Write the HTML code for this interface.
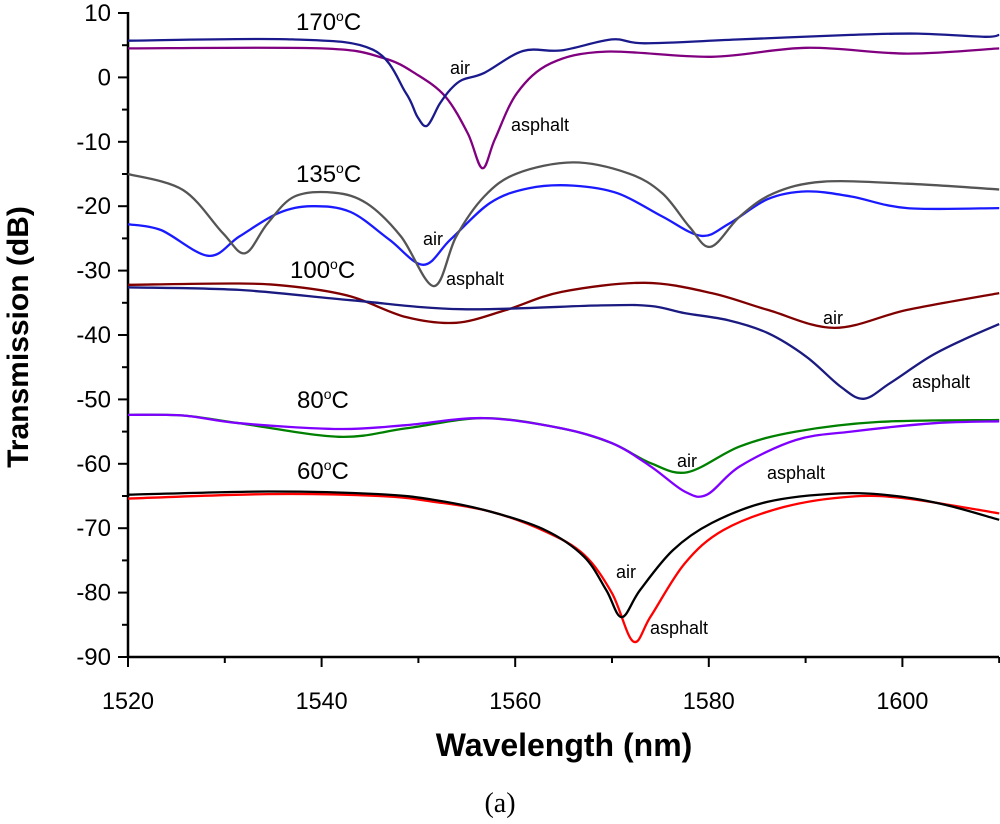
<!DOCTYPE html>
<html><head><meta charset="utf-8"><style>
body{margin:0;background:#fff;}
svg{display:block;font-family:"Liberation Sans",Arial,sans-serif;}
</style></head><body>
<svg id="chart" width="1000" height="824" viewBox="0 0 1000 824" xmlns="http://www.w3.org/2000/svg">
<g id="axes"></g>
<g id="series"></g>
<g id="labels">
<text x="296" y="30" font-size="24">170<tspan dy="-9" font-size="14">o</tspan><tspan dy="9">C</tspan></text>
<text x="296" y="182" font-size="24">135<tspan dy="-9" font-size="14">o</tspan><tspan dy="9">C</tspan></text>
<text x="290" y="278" font-size="24">100<tspan dy="-9" font-size="14">o</tspan><tspan dy="9">C</tspan></text>
<text x="297" y="408" font-size="24">80<tspan dy="-9" font-size="14">o</tspan><tspan dy="9">C</tspan></text>
<text x="297" y="479" font-size="24">60<tspan dy="-9" font-size="14">o</tspan><tspan dy="9">C</tspan></text>
<text x="450" y="74" font-size="18">air</text>
<text x="511" y="131" font-size="18">asphalt</text>
<text x="423" y="245" font-size="18">air</text>
<text x="446" y="285" font-size="18">asphalt</text>
<text x="823" y="324" font-size="18">air</text>
<text x="912" y="388" font-size="18">asphalt</text>
<text x="677" y="467" font-size="18">air</text>
<text x="767" y="479" font-size="18">asphalt</text>
<text x="616" y="578" font-size="18">air</text>
<text x="650" y="634" font-size="18">asphalt</text>
<text transform="translate(28,337) rotate(-90)" text-anchor="middle" font-size="30" font-weight="bold">Transmission (dB)</text>
<text x="564" y="756" text-anchor="middle" font-size="32" font-weight="bold">Wavelength (nm)</text>
<text x="500" y="812" text-anchor="middle" font-size="28" font-family="'Liberation Serif',serif">(a)</text>
</g>
</svg>
<script>
const xTicks=[1520,1540,1560,1580,1600];
const yTicks=[10,0,-10,-20,-30,-40,-50,-60,-70,-80,-90];
const w170air=[1520,1537,1545.3,1548.7,1549.9,1550.9,1552.2,1553.3,1554.5,1556.8,1560.8,1564.8,1570,1573.4,1583.2,1594.7,1601.6,1608.5,1610];
const t170air=[5.7,5.9,4.3,-2.4,-6.1,-7.5,-4.1,-1.9,-0.4,0.7,4.1,4.2,5.9,5.3,5.9,6.6,6.8,6.3,6.6];
const w170asp=[1520,1540,1546.4,1549.9,1552.8,1555.1,1556.6,1557.9,1560.2,1563.7,1569.4,1580.3,1590.1,1600.5,1610];
const t170asp=[4.5,4.5,3.0,0.4,-3.0,-8.7,-14.1,-9.6,-2.4,2.2,4.0,3.2,4.6,3.7,4.5];
const w135asp=[1520,1525.7,1529.8,1532.1,1534.4,1537.2,1541.3,1544.7,1548.2,1551.6,1553.9,1556.8,1560.2,1566,1571.7,1575.2,1578,1580.2,1583.2,1586.7,1591.8,1600.5,1610];
const t135asp=[-15.0,-17.5,-24.2,-27.3,-22.7,-18.5,-17.9,-19.6,-24.7,-32.4,-24.7,-18.5,-14.9,-13.2,-14.9,-18.0,-23.2,-26.3,-21.6,-18.0,-16.2,-16.5,-17.4];
const w135air=[1520,1523.4,1528.3,1531.5,1535.5,1539,1543,1547,1550.5,1553.3,1557.4,1561.4,1566,1570.6,1575.2,1579.2,1582.1,1586.1,1590.1,1594.7,1600.5,1610];
const t135air=[-22.8,-23.7,-27.7,-24.7,-21.1,-20.0,-20.9,-25.2,-29.1,-25.2,-19.5,-17.2,-16.8,-18.0,-21.6,-24.6,-22.7,-18.9,-17.7,-18.5,-20.3,-20.3];
const w100air=[1520,1531.5,1537.2,1543,1548.7,1553.9,1559.1,1564.8,1573.4,1580.3,1586.1,1593,1600.5,1610];
const t100air=[-32.2,-32.0,-32.5,-34.0,-37.2,-38.1,-36.1,-33.3,-31.9,-33.5,-36.1,-38.9,-36.1,-33.5];
const w100asp=[1520,1531.5,1543,1554.5,1568.9,1574,1577.5,1582,1586.1,1590.1,1593.6,1596,1598.7,1602.8,1606.2,1610];
const t100asp=[-32.6,-33.0,-34.6,-36.0,-35.4,-35.5,-36.6,-37.7,-39.7,-43.4,-48,-49.9,-47.5,-43.4,-40.8,-38.3];
const w80air=[1520,1525.7,1531.5,1541.8,1548.7,1556.8,1564.8,1570,1574,1577.8,1583.2,1589,1597.6,1610];
const t80air=[-52.4,-52.5,-53.7,-55.8,-54.5,-52.9,-54.5,-56.8,-59.9,-61.3,-57.3,-55.0,-53.5,-53.2];
const w80asp=[1520,1525.7,1531.5,1541.8,1548.7,1556.8,1564.8,1570,1574,1577.5,1579.8,1583.2,1589,1594.7,1603.3,1610];
const t80asp=[-52.4,-52.5,-53.7,-54.6,-54.0,-52.9,-54.5,-56.8,-60.4,-64.3,-64.8,-60.4,-56.3,-55.0,-53.7,-53.4];
const w60air=[1520,1534.4,1545.9,1551.6,1557.4,1563.1,1567.1,1569.4,1571,1572.9,1576.3,1580.3,1586.1,1593.6,1599.3,1604.5,1610];
const t60air=[-64.8,-64.3,-64.7,-65.6,-67.4,-70.3,-74.4,-79.6,-83.8,-79.6,-73.4,-69.2,-65.9,-64.6,-65.0,-66.4,-68.7];
const w60asp=[1520,1534.4,1545.9,1551.6,1557.4,1563.1,1567.1,1570,1572.2,1574,1577.5,1581.5,1587.8,1594.7,1600.5,1610];
const t60asp=[-65.4,-64.7,-65.0,-65.9,-67.4,-70.5,-74.1,-80.1,-87.6,-83.7,-75.5,-70.3,-66.7,-65.1,-65.4,-67.7];

const NS='http://www.w3.org/2000/svg';
const X=v=>128+(v-1520)*9.68;
const Y=v=>77.4-v*6.44;
const axes=document.getElementById('axes');
const series=document.getElementById('series');
function mk(tag,attrs,parent){const e=document.createElementNS(NS,tag);for(const k in attrs)e.setAttribute(k,attrs[k]);parent.appendChild(e);return e;}
let ax=mk('line',{x1:128,y1:657,x2:999,y2:657,stroke:'#000','stroke-width':2.5},axes);


let ay=mk('line',{x1:128,y1:12,x2:128,y2:658,stroke:'#000','stroke-width':2.5},axes);


for(let v=1520;v<=1610;v+=10){
  const major=xTicks.includes(v);
  const t=mk('line',{x1:X(v),y1:657,x2:X(v),y2:major?667:663,stroke:'#000','stroke-width':2},axes);
  
  
}
xTicks.forEach(v=>{
  const t=mk('text',{x:X(v),y:709,'text-anchor':'middle','font-size':24,'textLength':52,'lengthAdjust':'spacingAndGlyphs'},axes);
  t.textContent=v;
  
  
});
for(let v=10;v>=-90;v-=5){
  const major=v%10===0;
  const t=mk('line',{x1:major?118:122,y1:Y(v),x2:128,y2:Y(v),stroke:'#000','stroke-width':2},axes);
  
  
}
yTicks.forEach(v=>{
  const t=mk('text',{x:111,y:Y(v)+8,'text-anchor':'end','font-size':24},axes);
  t.textContent=v;
  
  
});
function smoothPath(ws,ts){
  const p=ws.map((w,i)=>[X(w),Y(ts[i])]);
  let d='M'+p[0][0].toFixed(1)+','+p[0][1].toFixed(1);
  for(let i=0;i<p.length-1;i++){
    const p0=p[i-1]||p[i],p1=p[i],p2=p[i+1],p3=p[i+2]||p2;
    const c1=[p1[0]+(p2[0]-p0[0])/6,p1[1]+(p2[1]-p0[1])/6];
    const c2=[p2[0]-(p3[0]-p1[0])/6,p2[1]-(p3[1]-p1[1])/6];
    d+=' C'+c1.map(v=>v.toFixed(1))+' '+c2.map(v=>v.toFixed(1))+' '+p2.map(v=>v.toFixed(1));
  }
  return d;
}
function draw(ws,ts,color,name){
  const e=mk('path',{d:smoothPath(ws,ts),fill:'none',stroke:color,'stroke-width':2.3,'stroke-linejoin':'round'},series);
  
  
}
draw(w170asp,t170asp,'#800080','series-170c-asphalt');
draw(w170air,t170air,'#1a1a8c','series-170c-air');
draw(w135air,t135air,'#1a1aff','series-135c-air');
draw(w135asp,t135asp,'#555555','series-135c-asphalt');
draw(w100air,t100air,'#800000','series-100c-air');
draw(w100asp,t100asp,'#1a1a80','series-100c-asphalt');
draw(w80air,t80air,'#008000','series-80c-air');
draw(w80asp,t80asp,'#8000ff','series-80c-asphalt');
draw(w60asp,t60asp,'#ff0000','series-60c-asphalt');
draw(w60air,t60air,'#000000','series-60c-air');
</script>
</body></html>
